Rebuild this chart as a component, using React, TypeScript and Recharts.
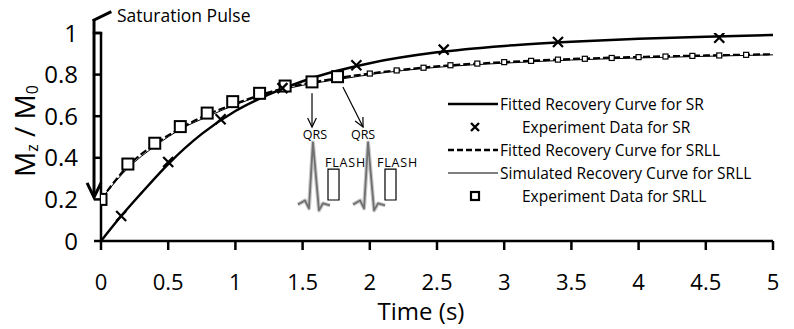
import React from 'react';
import {
  ComposedChart, Line, Scatter, XAxis, YAxis, Legend, ReferenceLine, ReferenceDot, ReferenceArea, Label,
} from 'recharts';

const FONT = "'Open Sans', sans-serif";

const xTicks = [0, 0.5, 1, 1.5, 2, 2.5, 3, 3.5, 4, 4.5, 5];
const yTicks = [0, 0.2, 0.4, 0.6, 0.8, 1];

// fitted recovery curve for SR
const srFitTime = [0, 0.15, 0.3, 0.5, 0.75, 1, 1.25, 1.5, 1.75, 2, 2.5, 3, 3.5, 4, 4.5, 5];
const srFitMz = [0, 0.12, 0.23, 0.37, 0.515, 0.625, 0.705, 0.768, 0.817, 0.855, 0.907, 0.938, 0.958, 0.972, 0.982, 0.99];

// experiment data for SR
const srExpTime = [0.15, 0.5, 0.89, 1.35, 1.9, 2.55, 3.4, 4.6];
const srExpMz = [0.12, 0.38, 0.585, 0.735, 0.845, 0.92, 0.957, 0.977];

// fitted recovery curve for SRLL
const srllFitTime = [0, 0.2, 0.4, 0.6, 0.8, 1, 1.2, 1.4, 1.6, 1.8, 2, 2.5, 3, 3.5, 4, 4.5, 5];
const srllFitMz = [0.2, 0.36, 0.465, 0.545, 0.61, 0.66, 0.705, 0.74, 0.765, 0.787, 0.805, 0.84, 0.86, 0.875, 0.885, 0.892, 0.898];

// simulated recovery curve for SRLL
const srllSimTime = [0, 0.2, 0.4, 0.6, 0.8, 1, 1.2, 1.4, 1.6, 1.8, 2, 2.5, 3, 3.5, 4, 4.5, 5];
const srllSimMz = [0.2, 0.35, 0.455, 0.54, 0.6, 0.655, 0.7, 0.735, 0.76, 0.78, 0.8, 0.835, 0.855, 0.87, 0.88, 0.888, 0.895];

// experiment data for SRLL
const srllExpTime = [0, 0.2, 0.4, 0.59, 0.79, 0.98, 1.18, 1.37, 1.57, 1.76,
  2.0, 2.2, 2.4, 2.6, 2.8, 3.0, 3.2, 3.4, 3.6, 3.8, 4.0, 4.2, 4.4, 4.6, 4.8];
const srllExpMz = [0.2, 0.37, 0.47, 0.55, 0.615, 0.67, 0.71, 0.745, 0.765, 0.79,
  0.805, 0.82, 0.833, 0.845, 0.853, 0.86, 0.866, 0.872, 0.876, 0.88, 0.884, 0.887, 0.89, 0.892, 0.895];

const legendNames = [
  'Fitted Recovery Curve for SR',
  'Experiment Data for SR',
  'Fitted Recovery Curve for SRLL',
  'Simulated Recovery Curve for SRLL',
  'Experiment Data for SRLL',
];

const zip = (ts: number[], ms: number[]) => ts.map((t, i) => ({ t, m: ms[i] }));

const srFit = zip(srFitTime, srFitMz);
const srExp = zip(srExpTime, srExpMz);
const srllFit = zip(srllFitTime, srllFitMz);
const srllSim = zip(srllSimTime, srllSimMz);
const srllExp = zip(srllExpTime, srllExpMz);

const CrossShape = (p: any) => {
  const { cx, cy } = p;
  const s = 5;
  return (
    <path d={`M${cx - s},${cy - s}L${cx + s},${cy + s}M${cx - s},${cy + s}L${cx + s},${cy - s}`}
      stroke="#000" strokeWidth={2.2} />
  );
};

const SquareShape = (p: any) => {
  const { cx, cy, payload } = p;
  const big = payload && payload.t < 1.9;
  const s = big ? 5.5 : 2.5;
  return (
    <rect x={cx - s} y={cy - s} width={s * 2} height={s * 2} fill="#fff" stroke="#000"
      strokeWidth={big ? 2 : 1.2} />
  );
};

const arrowShape = (width: number, head: number) => (p: any) => {
  const { x1, y1, x2, y2 } = p;
  const a = Math.atan2(y2 - y1, x2 - x1);
  const w = 0.45;
  const hx1 = x2 - head * Math.cos(a - w);
  const hy1 = y2 - head * Math.sin(a - w);
  const hx2 = x2 - head * Math.cos(a + w);
  const hy2 = y2 - head * Math.sin(a + w);
  return (
    <g>
      <line x1={x1} y1={y1} x2={x2} y2={y2} stroke="#000" strokeWidth={width} />
      <path d={`M${hx1},${hy1}L${x2},${y2}L${hx2},${hy2}`} fill="none" stroke="#000" strokeWidth={width} />
    </g>
  );
};

const plainLine = (width: number) => (p: any) => (
  <line x1={p.x1} y1={p.y1} x2={p.x2} y2={p.y2} stroke="#000" strokeWidth={width} strokeLinecap="square" />
);

const textShape = (text: string, size: number, anchor: 'start' | 'middle', spacing = 0) => (p: any) => (
  <text x={p.cx} y={p.cy} fontSize={size} fontFamily={FONT} textAnchor={anchor} fill="#000"
    letterSpacing={spacing}>{text}</text>
);

const ecgShape = (p: any) => {
  const { cx, cy } = p;
  const pts = [[-15, 62], [-8, 58], [-4, 66], [0, 0], [6, 68], [10, 61], [17, 63]];
  const d = pts.map(([dx, dy], i) => `${i ? 'L' : 'M'}${cx + dx},${cy + dy}`).join('');
  return (
    <g>
      <path d={d} fill="none" stroke="#c8c8c8" strokeWidth={4} strokeLinejoin="round" />
      <path d={d} fill="none" stroke="#707070" strokeWidth={1.8} strokeLinejoin="round" />
    </g>
  );
};

const LegendBox = () => (
  <div style={{ fontFamily: FONT, fontSize: 15.5, color: '#000' }}>
    {legendNames.map((name, i) => (
      <div key={name} style={{ display: 'flex', alignItems: 'center', height: 23, whiteSpace: 'nowrap' }}>
        <svg width={i === 1 || i === 4 ? 74 : 52} height={22}>
          {i === 0 && <line x1={0} y1={11} x2={50} y2={11} stroke="#000" strokeWidth={2.5} />}
          {i === 1 && <path d="M23,7L31,15M23,15L31,7" stroke="#000" strokeWidth={2.4} />}
          {i === 2 && <line x1={0} y1={11} x2={50} y2={11} stroke="#000" strokeWidth={2.4} strokeDasharray="6 3" />}
          {i === 3 && <line x1={0} y1={11} x2={50} y2={11} stroke="#000" strokeWidth={1.2} />}
          {i === 4 && <rect x={23} y={7} width={8} height={8} fill="#fff" stroke="#000" strokeWidth={2.2} />}
        </svg>
        <span>{name}</span>
      </div>
    ))}
  </div>
);

const YLabel = (props: any) => {
  const vb = props.viewBox || { x: 41, y: 33, width: 60, height: 208 };
  const x = 35;
  const y = vb.y + vb.height / 2 - 6;
  return (
    <text x={x} y={y} transform={`rotate(-90, ${x}, ${y})`} textAnchor="middle" fontFamily={FONT}
      fontSize={28} fill="#000">
      M<tspan fontSize={16} dy={3}>z</tspan><tspan fontSize={28} dy={-3}> / M</tspan>
      <tspan fontSize={16} dy={3}>0</tspan>
    </text>
  );
};

const XLabel = (props: any) => {
  const vb = props.viewBox || { x: 101, y: 241, width: 672, height: 88 };
  return (
    <text x={421} y={vb.y + 79} textAnchor="middle" fontFamily={FONT} fontSize={24} fill="#000">
      Time (s)
    </text>
  );
};

export default function App() {
  const axisStroke = { stroke: '#000', strokeWidth: 2.5 };
  return (
    <div style={{ position: 'absolute', left: 0, top: 0, background: '#fff' }}>
      <ComposedChart width={794} height={329} margin={{ top: 33, right: 21, bottom: 0, left: 41 }}>
        <XAxis type="number" dataKey="t" domain={[0, 5]} ticks={xTicks} height={88}
          axisLine={axisStroke} tickLine={axisStroke} tickSize={9} tickMargin={24}
          tick={{ fill: '#000', fontSize: 22, fontFamily: FONT }} allowDataOverflow>
          <Label content={XLabel} />
        </XAxis>
        <YAxis type="number" dataKey="m" domain={[0, 1]} ticks={yTicks} width={60}
          axisLine={axisStroke} tickLine={axisStroke} tickSize={7} tickMargin={16}
          tick={{ fill: '#000', fontSize: 24, fontFamily: FONT }} allowDataOverflow>
          <Label content={YLabel} />
        </YAxis>

        {/* saturation pulse */}
        <ReferenceLine segment={[{ x: -0.052, y: 1 }, { x: 0, y: 1 }]} ifOverflow="visible" shape={plainLine(2.5)} />
        <ReferenceLine segment={[{ x: -0.052, y: 1.0625 }, { x: -0.052, y: 0.21 }]} ifOverflow="visible"
          shape={arrowShape(3, 16)} />
        <ReferenceLine segment={[{ x: -0.052, y: 1.0625 }, { x: 0.067, y: 1.1 }]} ifOverflow="visible"
          shape={plainLine(3)} />
        <ReferenceDot x={0.119} y={1.053} ifOverflow="visible" shape={textShape('Saturation Pulse', 17.5, 'start')} />

        {/* QRS / FLASH diagram */}
        <ReferenceLine segment={[{ x: 1.57, y: 0.71 }, { x: 1.57, y: 0.548 }]} ifOverflow="visible" shape={arrowShape(1.2, 10)} />
        <ReferenceLine segment={[{ x: 1.80, y: 0.74 }, { x: 1.95, y: 0.548 }]} ifOverflow="visible" shape={arrowShape(1.2, 10)} />
        <ReferenceDot x={1.592} y={0.49} ifOverflow="visible" shape={textShape('QRS', 12.5, 'middle')} />
        <ReferenceDot x={1.95} y={0.49} ifOverflow="visible" shape={textShape('QRS', 12.5, 'middle')} />
        <ReferenceDot x={1.577} y={0.474} ifOverflow="visible" shape={ecgShape} />
        <ReferenceDot x={1.987} y={0.474} ifOverflow="visible" shape={ecgShape} />
        <ReferenceDot x={1.667} y={0.356} ifOverflow="visible" shape={textShape('FLASH', 12.5, 'start', 0.8)} />
        <ReferenceDot x={2.054} y={0.356} ifOverflow="visible" shape={textShape('FLASH', 12.5, 'start', 0.8)} />
        <ReferenceArea x1={1.689} x2={1.771} y1={0.197} y2={0.346} ifOverflow="visible" fill="#fff" fillOpacity={1} stroke="#000" strokeWidth={1.2} />
        <ReferenceArea x1={2.113} x2={2.195} y1={0.197} y2={0.346} ifOverflow="visible" fill="#fff" fillOpacity={1} stroke="#000" strokeWidth={1.2} />

        <Line data={srllSim} dataKey="m" type="monotone" stroke="#000" strokeWidth={1} dot={false} isAnimationActive={false} />
        <Line data={srllFit} dataKey="m" type="monotone" stroke="#000" strokeWidth={2.2} strokeDasharray="7 3" dot={false} isAnimationActive={false} />
        <Line data={srFit} dataKey="m" type="monotone" stroke="#000" strokeWidth={2.5} dot={false} isAnimationActive={false} />
        <Scatter data={srllExp} dataKey="m" shape={SquareShape} isAnimationActive={false} />
        <Scatter data={srExp} dataKey="m" shape={CrossShape} isAnimationActive={false} />

        <Legend layout="vertical" align="center" verticalAlign="middle" content={LegendBox}
          wrapperStyle={{ left: 448, top: 92, width: 340 }} />
      </ComposedChart>
    </div>
  );
}
